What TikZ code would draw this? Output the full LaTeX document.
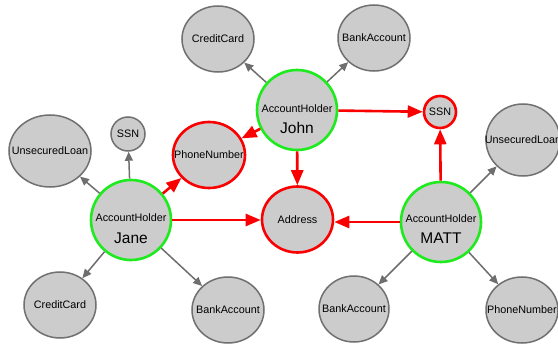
\documentclass[tikz,border=0pt]{standalone}
\usepackage{fontspec}
\setmainfont{Liberation Sans}
\usetikzlibrary{shapes.geometric,arrows.meta}
\definecolor{nodefill}{RGB}{204,204,204}
\definecolor{nodeline}{RGB}{112,112,112}
\definecolor{edgegray}{RGB}{110,110,110}
\definecolor{hgreen}{RGB}{30,235,30}
\definecolor{hred}{RGB}{250,0,0}
\tikzset{
  ent/.style={ellipse, draw=nodeline, fill=nodefill, line width=1.5pt, inner sep=0pt,
    minimum width=72pt, minimum height=66pt, font=\fontsize{10.8}{12}\selectfont},
  redent/.style={ent, draw=hred, line width=2.6pt},
  smallent/.style={ent, minimum width=34pt, minimum height=34pt},
  holder/.style={circle, draw=hgreen, fill=nodefill, line width=2.6pt, inner sep=0pt, minimum size=80pt},
  toplabel/.style={font=\fontsize{10.8}{12}\selectfont, inner sep=0pt},
  namelabel/.style={font=\fontsize{15.5}{17}\selectfont, inner sep=0pt},
  gedge/.style={draw=edgegray, line width=1.5pt, -{Triangle[length=9pt,width=8pt]}},
  redge/.style={draw=hred, line width=2.6pt, -{Triangle[length=15pt,width=12pt]}},
}
\begin{document}
\begin{tikzpicture}[x=1pt,y=-1pt]
\useasboundingbox (0,0) rectangle (558,345);
% holders
\node[holder] (john) at (297,110) {};
\node[holder] (jane) at (131,220) {};
\node[holder] (matt) at (441,222) {};
\node[toplabel] (johnA) at (297,109) {AccountHolder};
\node[namelabel] (johnN) at (297,128) {John};
\node[toplabel] (janeA) at (131,218) {AccountHolder};
\node[namelabel] (janeN) at (131,238) {Jane};
\node[toplabel] (mattA) at (441,219) {AccountHolder};
\node[namelabel] (mattN) at (441,238) {MATT};
% other entities
\node[ent] (cc1) at (218,39) {\makebox[0pt]{CreditCard}};
\node[ent] (ba1) at (374,38) {\makebox[0pt]{BankAccount}};
\node[redent, minimum width=32pt, minimum height=32pt] (ssn1) at (440,112) {\makebox[0pt]{SSN}};
\node[ent, minimum width=74pt, minimum height=72pt] (ul2) at (523,140) {\makebox[0pt]{UnsecuredLoan}};
\node[smallent] (ssn2) at (128,134) {\makebox[0pt]{SSN}};
\node[ent, minimum width=82pt, minimum height=72pt] (ul1) at (50,151) {\makebox[0pt]{UnsecuredLoan}};
\node[redent] (pn1) at (209,155) {\makebox[0pt]{PhoneNumber}};
\node[redent, minimum width=71pt] (addr) at (297.5,219.5) {\makebox[0pt]{Address}};
\node[ent] (cc2) at (60,305) {\makebox[0pt]{CreditCard}};
\node[ent] (ba2) at (228,310) {\makebox[0pt]{BankAccount}};
\node[ent, minimum width=70pt] (ba3) at (354,309) {\makebox[0pt]{BankAccount}};
\node[ent] (pn2) at (522,310) {\makebox[0pt]{PhoneNumber}};
% edges
\draw[gedge] (john) -- (cc1);
\draw[gedge] (john) -- (ba1);
\draw[redge] (john) -- (pn1);
\draw[redge] (john) -- (ssn1);
\draw[redge] (john) -- (addr);
\draw[gedge] (jane) -- (ssn2);
\draw[gedge] (jane) -- (ul1);
\draw[redge] (jane) -- (pn1);
\draw[redge] (jane.east) -- (addr.west |- jane.east);
\draw[gedge] (jane) -- (cc2);
\draw[gedge] (jane) -- (ba2);
\draw[redge] (matt.west) -- (addr.east |- matt.west);
\draw[redge] (matt) -- (ssn1);
\draw[gedge] (matt) -- (ul2);
\draw[gedge] (matt) -- (ba3);
\draw[gedge] (matt) -- (pn2);
\end{tikzpicture}
\end{document}
